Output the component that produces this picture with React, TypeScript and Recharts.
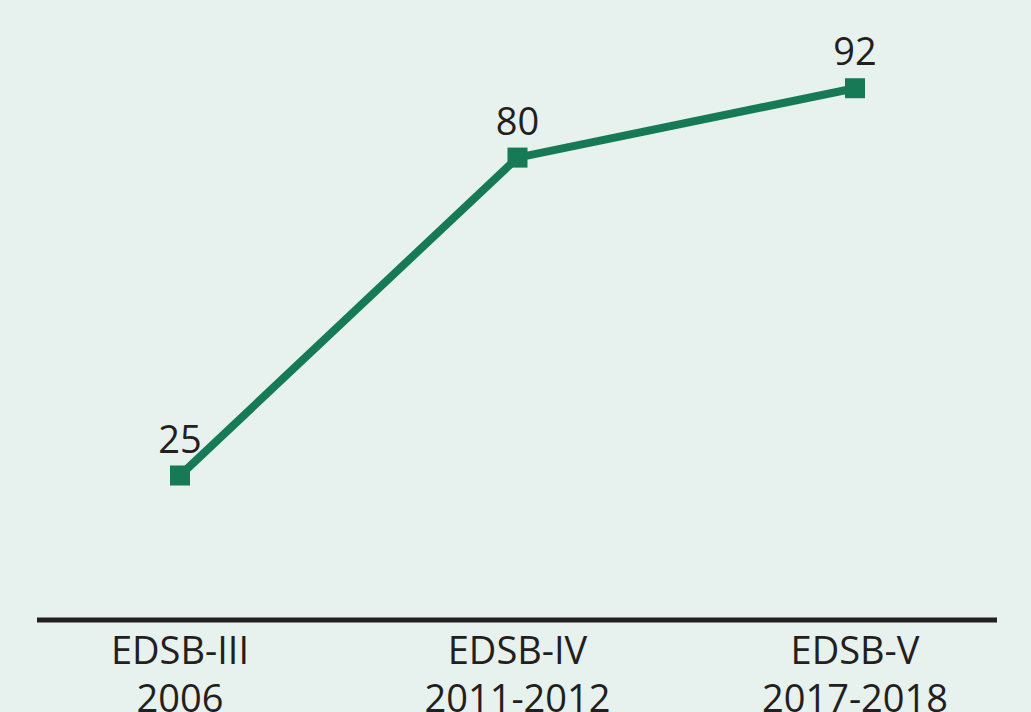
import React from "react";
import { LineChart, Line, XAxis, YAxis, LabelList } from "recharts";

const categories = ["EDSB-III|2006", "EDSB-IV|2011-2012", "EDSB-V|2017-2018"];
const values = [25, 80, 92];

const data = categories.map((c, i) => ({ name: c, value: values[i] }));

const GREEN = "#177a57";
const TEXT = "#231f20";
const FONT = "'Open Sans', 'Noto Sans', sans-serif";

const Tick = (props: any) => {
  const { x, y, payload } = props;
  const [a, b] = String(payload.value).split("|");
  return (
    <g>
      <text x={x} y={y + 36} textAnchor="middle" fill={TEXT} fontSize={38} fontFamily={FONT}>
        {a}
      </text>
      <text x={x} y={y + 84} textAnchor="middle" fill={TEXT} fontSize={38} fontFamily={FONT}>
        {b}
      </text>
    </g>
  );
};

const SquareDot = (props: any) => {
  const { cx, cy } = props;
  if (cx == null || cy == null) return null;
  return <rect x={cx - 10} y={cy - 10} width={20} height={20} fill={GREEN} />;
};

const ValueLabel = (props: any) => {
  const { x, y, value } = props;
  return (
    <text x={x} y={y - 23} textAnchor="middle" fill={TEXT} fontSize={38} fontFamily={FONT}>
      {value}
    </text>
  );
};

export default function App() {
  return (
    <div style={{ width: 1031, height: 712, background: "#e7f1ed", overflow: "hidden" }}>
      <style>{`body{margin:0;}`}</style>
      <LineChart
        width={1031}
        height={712}
        data={data}
        margin={{ top: 42, right: 34, bottom: 0, left: 37 }}
      >
        <XAxis
          dataKey="name"
          height={92}
          padding={{ left: 143, right: 142 }}
          axisLine={{ stroke: TEXT, strokeWidth: 5 }}
          tickLine={false}
          tick={<Tick />}
          interval={0}
        />
        <YAxis hide domain={[0, 100]} width={0} />
        <Line
          type="linear"
          dataKey="value"
          stroke={GREEN}
          strokeWidth={8}
          dot={<SquareDot />}
          activeDot={false}
          isAnimationActive={false}
        >
          <LabelList dataKey="value" content={<ValueLabel />} />
        </Line>
      </LineChart>
    </div>
  );
}
